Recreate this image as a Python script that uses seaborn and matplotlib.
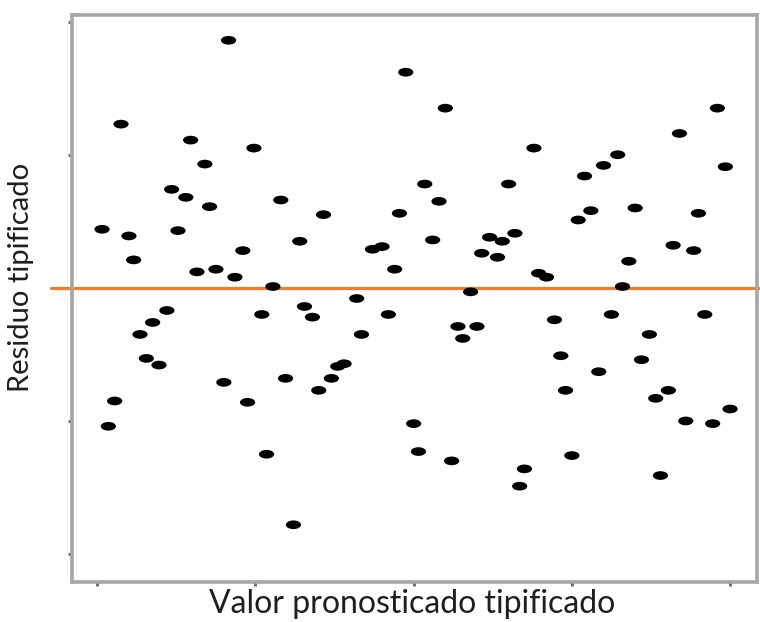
import numpy as np
import pandas as pd
import matplotlib
matplotlib.use("Agg")
import matplotlib.pyplot as plt
from matplotlib.path import Path
from matplotlib.markers import MarkerStyle
from matplotlib.transforms import Affine2D
import seaborn as sns

# Standardized predicted values vs standardized residuals
predicho = [
    -1.17, -1.85, -1.41, -1.01, -1.32, -1.53, -1.44, -1.29, -0.84, -1.97,
    -1.80, -1.49, -0.72, -1.77, -1.08, -1.37, -1.25, -1.13, -0.89, -0.05,
    0.20, 0.76, 0.07, 0.60, 0.16, -0.57, -0.09, -0.26, -0.20, 0.12,
    -0.12, 0.48, 0.56, 0.64, 0.43, 0.53, 0.36, -0.36, -0.69, 1.92,
    1.68, 1.29, 1.20, 1.08, 1.97, 1.12, 1.04, 1.40, 1.80, 1.64,
    1.77, 1.36, 0.79, 0.84, 1.32, -1.56, -1.65, -1.73, -1.69, -1.61,
    -0.96, -1.20, -0.81, -1.05, -1.89, -1.93, -0.93, -0.76, -0.64, -0.16,
    -0.33, 0.28, 0.40, 0.31, -0.48, -0.44, -0.52, -0.60, 0.00, 0.03,
    0.24, 0.70, 0.67, 0.89, 1.25, 1.84, 1.49, 0.93, 1.44, 1.17,
    0.96, 1.61, 1.53, 2.00, 1.72, 1.89, 1.00, 1.56,
]
residuo = [
    1.86, 1.23, 1.11, 1.05, 0.93, 0.74, 0.68, 0.61, 0.66, 0.44,
    0.39, 0.43, 0.35, 0.21, 0.28, 0.12, 0.14, 0.08, 0.01, 1.62,
    1.35, 1.05, 0.78, 0.78, 0.65, 0.55, 0.56, 0.29, 0.31, 0.36,
    0.14, 0.38, 0.35, 0.41, 0.26, 0.23, -0.03, -0.08, -0.14, 1.35,
    1.16, 1.00, 0.92, 0.84, 0.91, 0.58, 0.51, 0.60, 0.56, 0.32,
    0.28, 0.20, 0.11, 0.08, 0.01, -0.17, -0.26, -0.35, -0.53, -0.58,
    -0.20, -0.71, -0.68, -0.86, -0.85, -1.04, -1.25, -1.78, -0.22, -0.20,
    -0.35, -0.29, -0.29, -0.38, -0.59, -0.57, -0.68, -0.77, -1.02, -1.23,
    -1.30, -1.36, -1.49, -0.24, -0.20, -0.20, -0.35, -0.51, -0.54, -0.63,
    -0.77, -0.77, -0.83, -0.91, -1.00, -1.02, -1.26, -1.41,
]
ticks = [-2, -1, 0, 1, 2]

df = pd.DataFrame({"Valor pronosticado tipificado": predicho,
                   "Residuo tipificado": residuo})

sns.set_style("white")
plt.rcParams["font.family"] = ["Lato", "DejaVu Sans"]

fig = plt.figure(figsize=(7.6, 6.22), dpi=100)
ax = fig.add_axes([0.0947, 0.0643, 0.9013, 0.9116])

# flattened elliptical dot marker
elipse = Path.unit_circle().transformed(Affine2D().scale(1.75, 1.0))
marker = MarkerStyle(elipse)

sns.scatterplot(data=df, x="Valor pronosticado tipificado", y="Residuo tipificado",
                marker=marker, s=120, color="black", edgecolor="none",
                linewidth=0, ax=ax, zorder=3)

ax.axhline(0, xmin=-0.03, xmax=1.01, color="#ED7D31", lw=2.3,
           clip_on=False, zorder=2)

ax.set_xlim(-2.16, 2.17)
ax.set_ylim(-2.21, 2.05)
ax.set_xticks(ticks)
ax.set_yticks(ticks)
ax.set_xticklabels([])
ax.set_yticklabels([])
ax.tick_params(bottom=True, left=True, length=3, width=2.2,
               color="#6e6e6e", direction="out", pad=2)

for sp in ax.spines.values():
    sp.set_visible(True)
    sp.set_color("#a6a6a6")
    sp.set_linewidth(2.6)

ax.set_xlabel("Valor pronosticado tipificado", fontsize=23, color="#1e1e1e")
ax.set_ylabel("Residuo tipificado", fontsize=21, color="#1e1e1e")
ax.xaxis.label.set_va("baseline")
ax.yaxis.label.set_va("center")
ax.xaxis.set_label_coords(0.496, -0.0547)
ax.yaxis.set_label_coords(-0.075, 0.538)

fig.savefig("out.png", dpi=100, facecolor="white")
